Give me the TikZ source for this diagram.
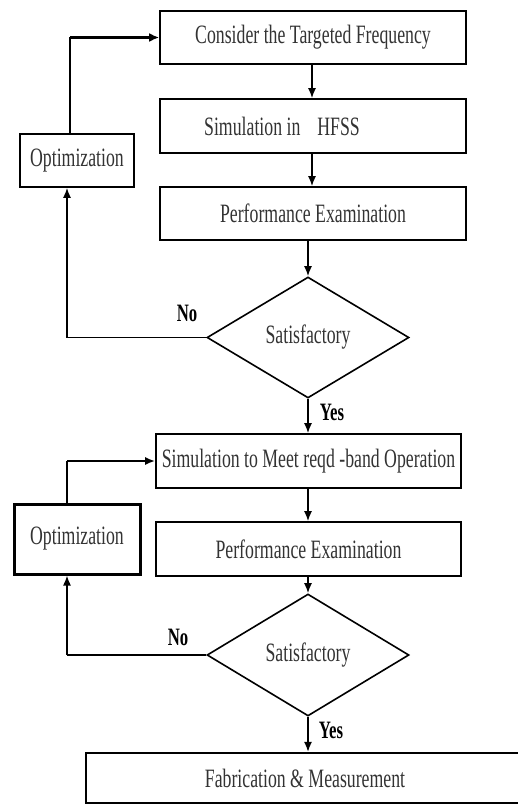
\documentclass[tikz,border=0pt]{standalone}
\usepackage{fontspec}
\setmainfont[FakeStretch=0.67]{Liberation Serif}
\usetikzlibrary{shapes.geometric,arrows.meta}
\begin{document}
\begin{tikzpicture}[x=1pt,y=-1pt,
  every node/.style={font=\fontsize{26.5}{30}\selectfont, text=black!80},
  boxA/.style={draw=black, line width=1.6pt, minimum width=306pt, minimum height=53pt, inner sep=0pt},
  optA/.style={draw=black, line width=1.6pt, minimum width=114pt, minimum height=53pt, inner sep=0pt},
  optB/.style={draw=black, line width=3pt, minimum width=126pt, minimum height=70pt, inner sep=0pt},
  decis/.style={draw=black, line width=1.6pt, diamond, minimum width=202pt, minimum height=121pt, inner sep=0pt},
  lbl/.style={font=\fontsize{25}{28}\selectfont\bfseries, text=black},
  conn/.style={line width=1.6pt, -{Latex[length=10pt,width=8pt]}},
  thickconn/.style={line width=3.2pt, -{Latex[length=10pt,width=9pt]}},
  plain/.style={line width=1.6pt}]
\useasboundingbox (0,0) rectangle (517,805);
\fill[white] (0,0) rectangle (517,805);
% top section
\node[boxA] (b1) at (313,37.5) {Consider the Targeted Frequency};
\node[boxA, minimum height=54pt] (b2) at (313,126) {};
\node (b2t) at (282,126) {Simulation in\hspace{17pt}HFSS};
\node[boxA] (b3) at (313,213.5) {Performance Examination};
\node[optA] (o1) at (77,160.5) {Optimization};
\node[decis] (d1) at (308,337.5) {Satisfactory};
\node[lbl] (no1) at (187,313) {No};
\node[lbl] (yes1) at (332,412) {Yes};
% bottom section
\node[boxA, minimum width=305pt, minimum height=54pt] (b4) at (308.5,461) {Simulation to Meet reqd -band Operation};
\node[optB] (o2) at (77,539) {Optimization};
\node[boxA, minimum width=305pt, minimum height=54pt] (b5) at (308.5,549) {Performance Examination};
\node[decis, minimum height=122pt] (d2) at (308,655) {Satisfactory};
\node[lbl] (no2) at (178,637) {No};
\node[lbl] (yes2) at (331,730) {Yes};
\node[draw=black, line width=2.2pt, minimum width=438pt, minimum height=50pt, inner sep=0pt] (b6) at (305,778) {Fabrication \& Measurement};
% coordinates
\coordinate (c1a) at (67,337.5);
\coordinate (c1b) at (70,37.5);
\coordinate (c2a) at (67,655);
\coordinate (c2b) at (67,461);
% connectors
\draw[conn] (b1.south -| 312,0) -- (b2.north -| 312,0);
\draw[conn] (b2.south -| 312,0) -- (b3.north -| 312,0);
\draw[conn] (b3.south -| d1.north) -- (d1.north);
\draw[plain] (d1.west) -- (c1a);
\draw[conn] (c1a) -- (c1a |- o1.south);
\draw[plain] (c1b |- o1.north) -- (c1b);
\draw[thickconn] (c1b) -- (b1.west);
\draw[conn] (d1.south) -- (b4.north -| d1.south);
\draw[conn] (b4.south -| d1.south) -- (b5.north -| d1.south);
\draw[conn] (b5.south -| d2.north) -- (d2.north);
\draw[plain] (d2.west) -- (c2a);
\draw[conn] (c2a) -- (c2a |- o2.south);
\draw[plain] (c2b |- o2.north) -- (c2b);
\draw[line width=2.2pt, -{Latex[length=10pt,width=8pt]}] (c2b) -- (b4.west);
\draw[conn] (d2.south) -- (b6.north -| d2.south);
\end{tikzpicture}
\end{document}
